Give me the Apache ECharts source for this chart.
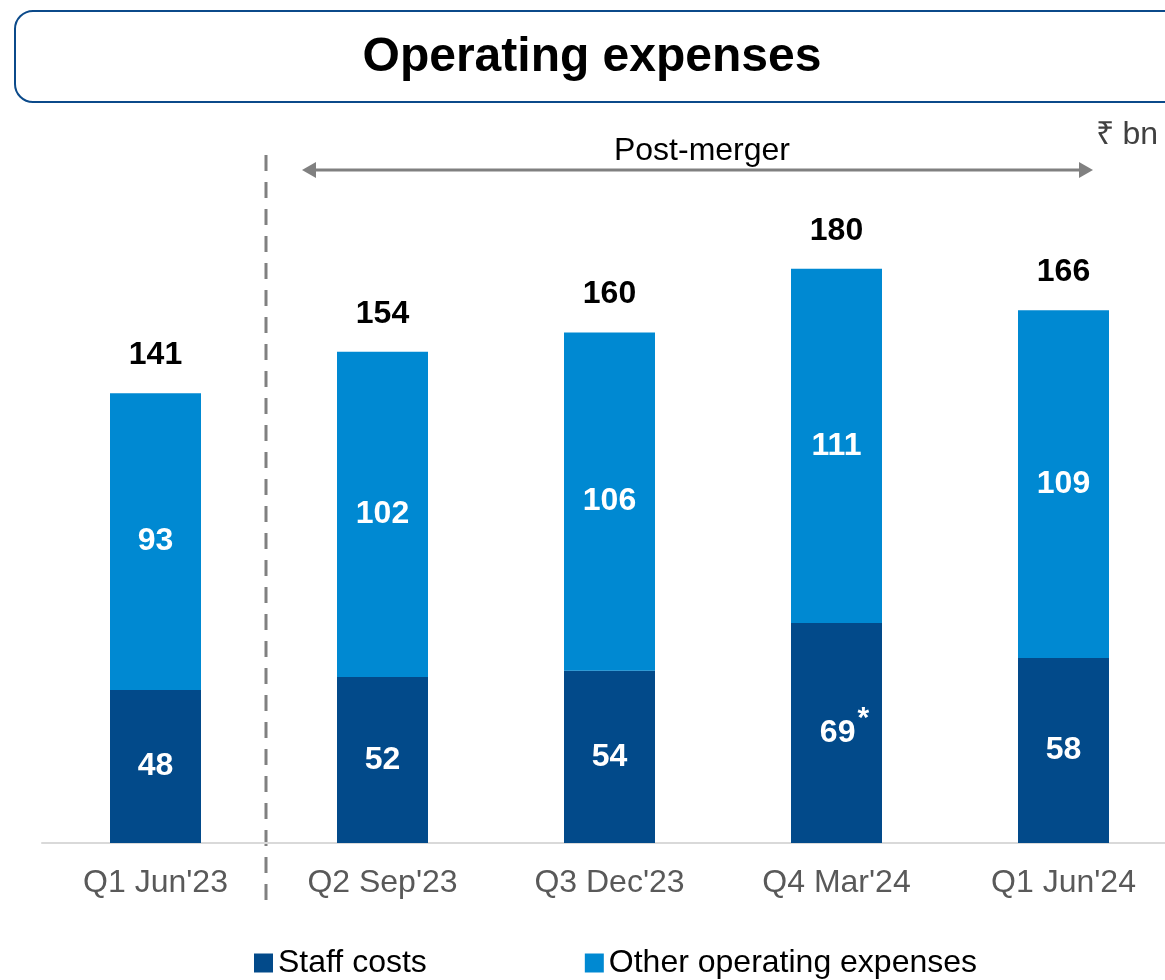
<!DOCTYPE html>
<html>
<head>
<meta charset="utf-8">
<script src="https://cdn.jsdelivr.net/npm/echarts@6/dist/echarts.min.js"></script>
<style>
  html, body { margin: 0; padding: 0; background: #fff; }
  #chart { width: 1165px; height: 980px; }
</style>
</head>
<body>
<div id="chart"></div>
<script>
// data (₹ bn)
var quarters = ["Q1 Jun'23", "Q2 Sep'23", "Q3 Dec'23", "Q4 Mar'24", "Q1 Jun'24"];
var staffCosts = [48, 52, 54, 69, 58];
var otherOpex = [93, 102, 106, 111, 109];
var totals = [141, 154, 160, 180, 166];
var starred = [false, false, false, true, false];

var FONT = "'Liberation Sans', Arial, sans-serif";
var myChart = echarts.init(document.getElementById("chart"));

var option = {
  animation: false,
  textStyle: { fontFamily: FONT },
  grid: { left: 42, width: 1135, top: 205, bottom: 137, outerBoundsMode: "none", containLabel: false },
  legend: {
    bottom: -4,
    left: 249,
    itemWidth: 19,
    itemHeight: 19,
    itemGap: 158,
    icon: "rect",
    textStyle: { fontSize: 32, color: "#000", fontFamily: FONT },
    data: ["Staff costs", "Other operating expenses"]
  },
  xAxis: {
    type: "category",
    data: quarters,
    axisTick: { show: false },
    axisLine: { lineStyle: { color: "#d9d9d9", width: 2 } },
    axisLabel: { fontSize: 32, color: "#595959", margin: 24, fontFamily: FONT }
  },
  yAxis: {
    type: "value",
    min: 0,
    max: 200,
    show: false,
    splitLine: { show: false }
  },
  series: [
    {
      name: "Staff costs",
      type: "bar",
      stack: "opex",
      barWidth: 91,
      data: staffCosts,
      itemStyle: { color: "#024A8A" },
      label: {
        show: true,
        position: "inside",
        formatter: function (p) {
          // keep the number centred, the asterisk hangs to the right
          return starred[p.dataIndex] ? "{w|" + p.value + "}{s|*}" : "{v|" + p.value + "}";
        },
        rich: {
          v: { fontSize: 32, fontWeight: "bold", color: "#fff", fontFamily: FONT },
          w: { fontSize: 32, fontWeight: "bold", color: "#fff", fontFamily: FONT, padding: [0, 0, 0, 16] },
          s: { fontSize: 30, fontWeight: "bold", color: "#fff", fontFamily: FONT, padding: [0, 0, 28, 2] }
        }
      }
    },
    {
      name: "Other operating expenses",
      type: "bar",
      stack: "opex",
      barWidth: 91,
      data: otherOpex,
      itemStyle: { color: "#0089D2" },
      label: {
        show: true,
        position: "inside",
        fontSize: 32,
        fontWeight: "bold",
        color: "#fff",
        fontFamily: FONT
      }
    },
    {
      // totals shown above each stack
      name: "Total",
      type: "bar",
      stack: "opex",
      barWidth: 91,
      data: totals.map(function () { return 0; }),
      itemStyle: { color: "transparent" },
      label: {
        show: true,
        position: "top",
        distance: 22,
        formatter: function (p) { return totals[p.dataIndex]; },
        fontSize: 32,
        fontWeight: "bold",
        color: "#000",
        fontFamily: FONT
      }
    }
  ],
  graphic: [
    {
      type: "rect",
      shape: { x: 15, y: 11, width: 1170, height: 91, r: 18 },
      style: { fill: "#fff", stroke: "#0B4A8A", lineWidth: 2 }
    },
    {
      type: "text",
      x: 592,
      y: 58,
      style: {
        text: "Operating expenses",
        font: "bold 48px " + FONT,
        fill: "#000",
        textAlign: "center",
        textVerticalAlign: "middle"
      }
    },
    {
      type: "text",
      x: 1158,
      y: 135,
      style: {
        text: "₹ bn",
        font: "32px " + FONT,
        fill: "#404040",
        textAlign: "right",
        textVerticalAlign: "middle"
      }
    },
    {
      type: "text",
      x: 702,
      y: 151,
      style: {
        text: "Post-merger",
        font: "32px " + FONT,
        fill: "#000",
        textAlign: "center",
        textVerticalAlign: "middle"
      }
    },
    {
      type: "line",
      shape: { x1: 312, y1: 170, x2: 1082, y2: 170 },
      style: { stroke: "#808080", lineWidth: 3 }
    },
    {
      type: "polygon",
      shape: { points: [[302, 170], [316, 162], [316, 178]] },
      style: { fill: "#808080" }
    },
    {
      type: "polygon",
      shape: { points: [[1093, 170], [1079, 162], [1079, 178]] },
      style: { fill: "#808080" }
    },
    {
      type: "line",
      shape: { x1: 266, y1: 155, x2: 266, y2: 902 },
      style: { stroke: "#808080", lineWidth: 3, lineDash: [16, 11] }
    }
  ]
};

myChart.setOption(option);
</script>
</body>
</html>
